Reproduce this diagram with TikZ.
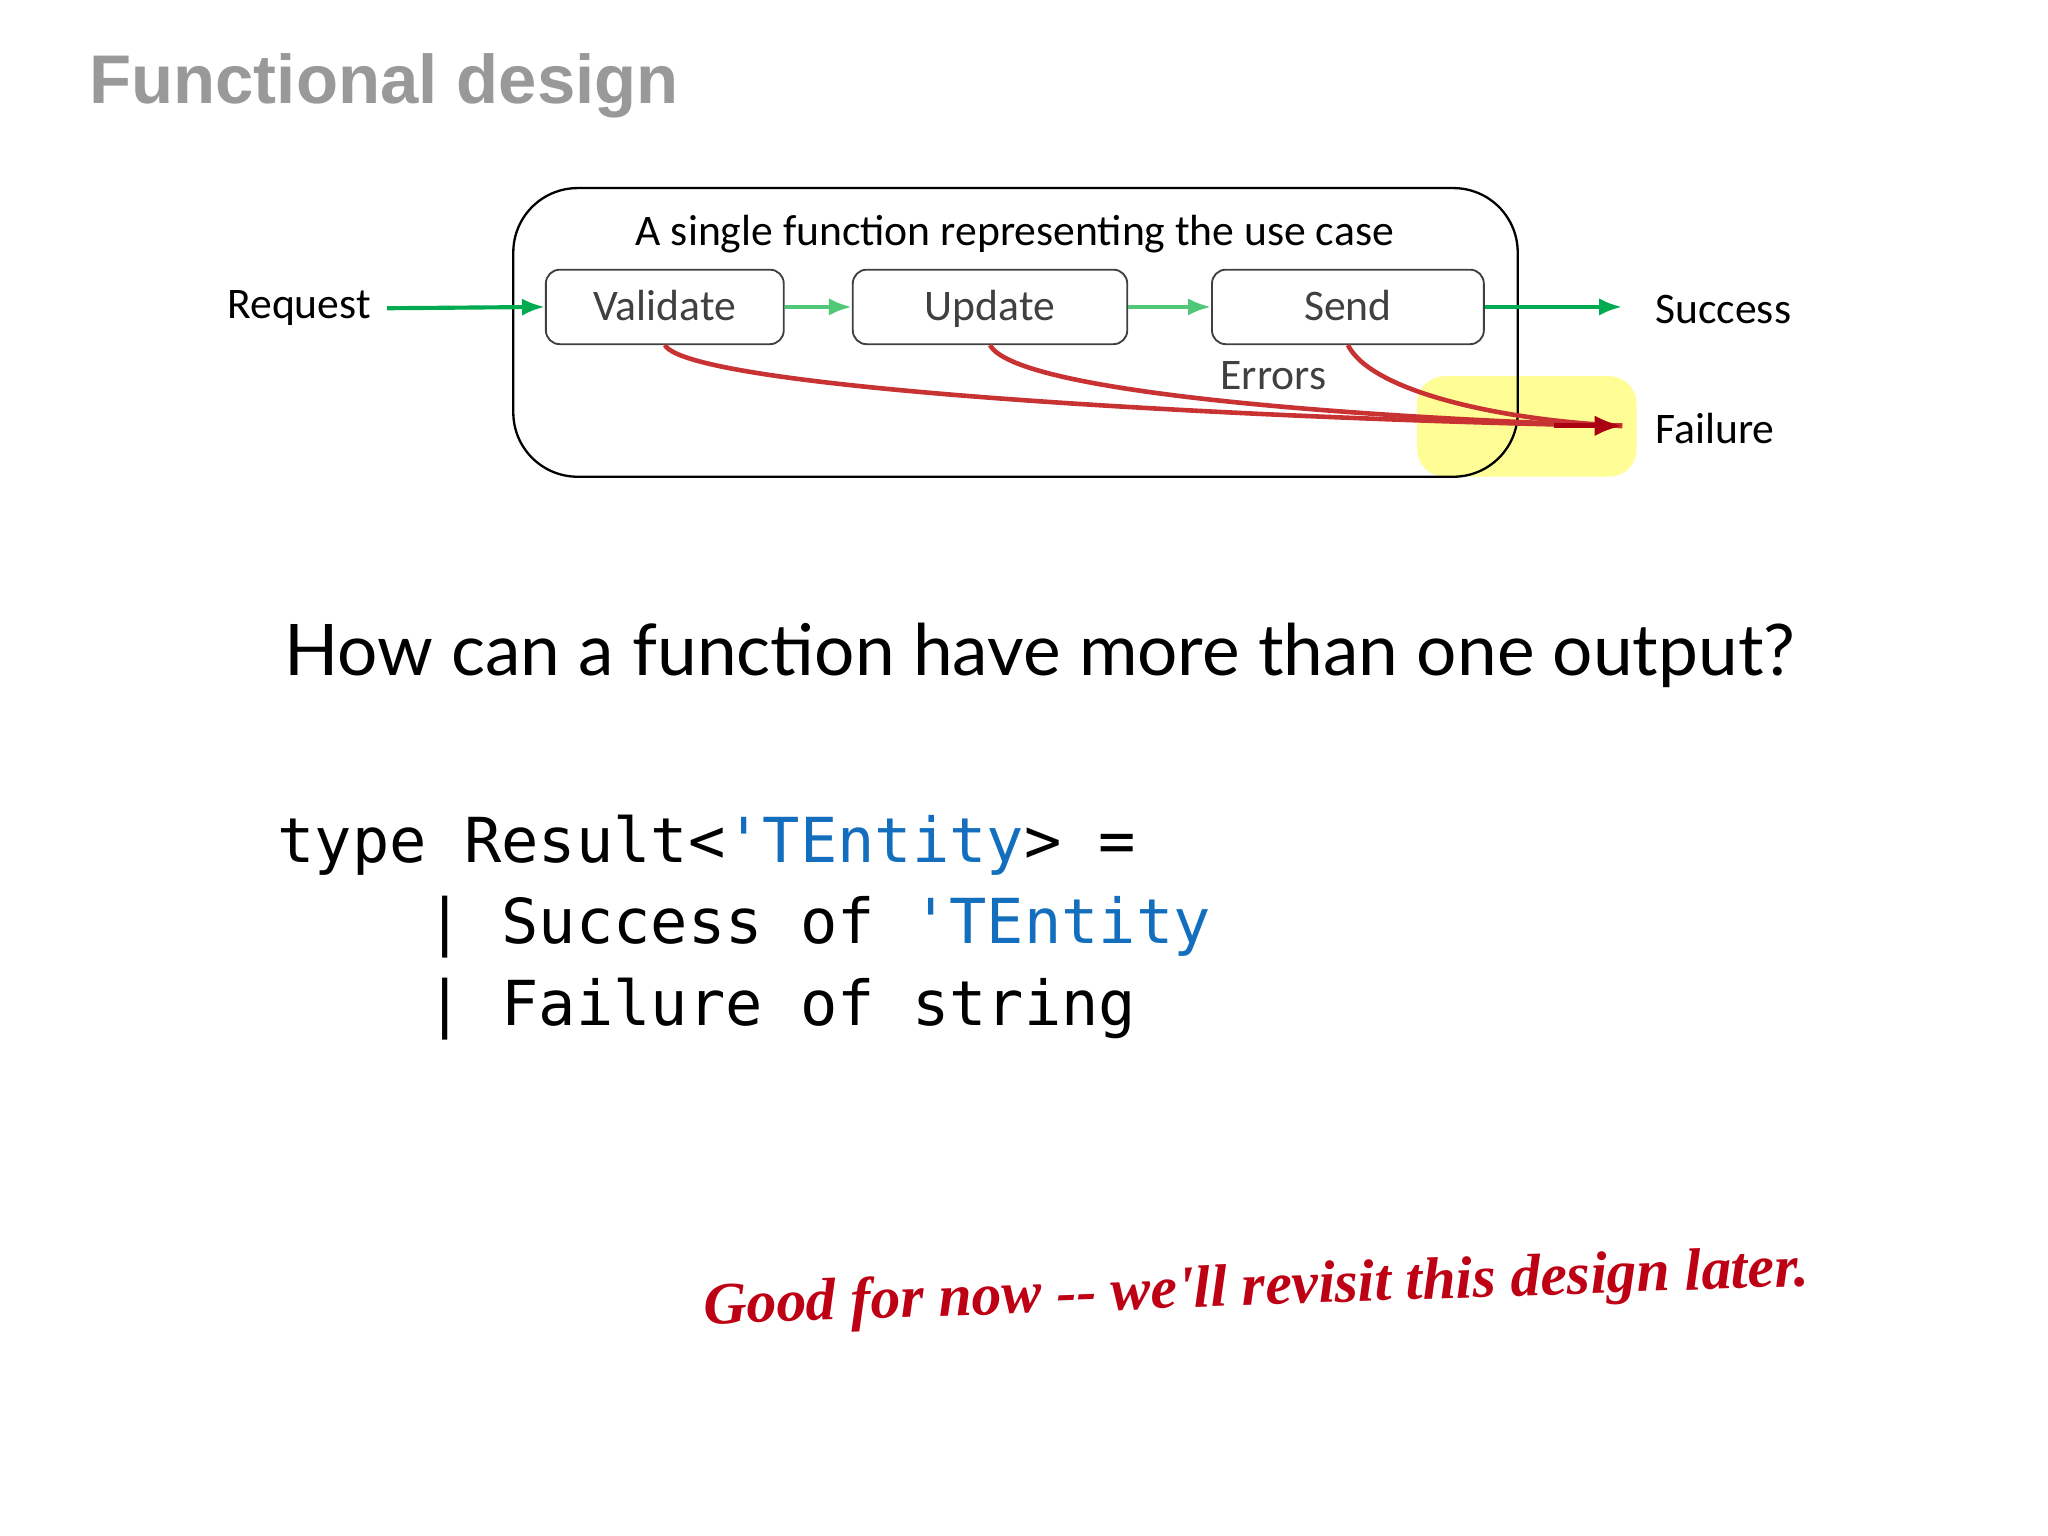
\documentclass[tikz,border=0pt]{standalone}
\usepackage{fontspec}
\setmainfont{Carlito}
\newfontfamily\titlefont{Liberation Sans}
\newfontfamily\qfont{Lato}
\newfontfamily\codefont{DejaVu Sans Mono}
\newfontfamily\handfont{Liberation Serif}
\usetikzlibrary{arrows.meta}
\definecolor{grn}{RGB}{0,170,80}
\definecolor{lgrn}{RGB}{80,200,120}
\definecolor{redl}{RGB}{200,50,50}
\definecolor{codeblue}{RGB}{20,110,190}
\definecolor{hand}{RGB}{190,0,20}
\definecolor{hilite}{RGB}{255,253,150}
\begin{document}
\begin{tikzpicture}[x=0.01cm,y=-0.01cm,
  stepbox/.style={draw=black!75,rounded corners=3pt,minimum height=0.52cm,text height=1.6ex,text depth=0.4ex,font=\fontsize{9.5}{10}\selectfont,text=black!75},
  garr/.style={draw=grn,line width=0.9pt,-{Latex[length=5pt]}},
  lgarr/.style={draw=lgrn,line width=0.9pt,-{Latex[length=5pt]}},
  rarr/.style={draw=redl,line width=1pt},
  lbl/.style={font=\fontsize{9.5}{10}\selectfont}]
\useasboundingbox[fill=white] (0,0) rectangle (1568,1176);
\node[anchor=west,text=black!40,font=\titlefont\bfseries\fontsize{15}{18}\selectfont] (title) at (56,66) {Functional design};
\fill[hilite,rounded corners=6pt] (1085,288) rectangle (1253,365);
\draw[black,rounded corners=14pt,line width=0.5pt] (393,144) rectangle (1162,365);
\node[lbl] (hdr) at (777,179) {A single function representing the use case};
\node[stepbox,minimum width=1.82cm] (val) at (509,235) {Validate};
\node[stepbox,minimum width=2.10cm] (upd) at (758,235) {Update};
\node[stepbox,minimum width=2.08cm] (snd) at (1032,235) {Send};
\node[lbl] (req) at (229,236) {Request};
\node[lbl,anchor=west] (succ) at (1255,237) {Success};
\node[lbl,anchor=west] (fail) at (1255,328) {Failure};
\node[lbl,text=black!75] (err) at (975,288) {Errors};
\coordinate (ft) at (1242,326);
\coordinate (st) at (1242,235);
\draw[garr] (req.east) -- (val.west);
\draw[lgarr] (val.east) -- (upd.west);
\draw[lgarr] (upd.east) -- (snd.west);
\draw[garr] (snd.east) -- (st);
\draw[rarr] (val.south) .. controls (530,300) and (1000,322) .. (ft);
\draw[rarr] (upd.south) .. controls (780,305) and (1100,322) .. (ft);
\draw[rarr] (snd.south) .. controls (1050,300) and (1150,322) .. (ft);
\draw[draw=hand!90!black,line width=1pt,-{Latex[length=6pt]}] (1190,326) -- (ft);
\node[font=\qfont\fontsize{15.5}{18}\selectfont] (q) at (796,502) {How can a function have more than one output?};
\begin{scope}[every node/.style={anchor=base west,font=\codefont\fontsize{13.5}{16}\selectfont}]
\node (c1) at (200,660) {type Result<\textcolor{codeblue}{'TEntity}> =};
\node (c2) at (200,722) {\ \ \ \ | Success of \textcolor{codeblue}{'TEntity}};
\node (c3) at (200,785) {\ \ \ \ | Failure of string};
\end{scope}
\node[text=hand,rotate=2,font=\handfont\itshape\bfseries\fontsize{13}{16}\selectfont] (hw) at (962,988) {Good for now -- we'll revisit this design later.};
\end{tikzpicture}
\end{document}
